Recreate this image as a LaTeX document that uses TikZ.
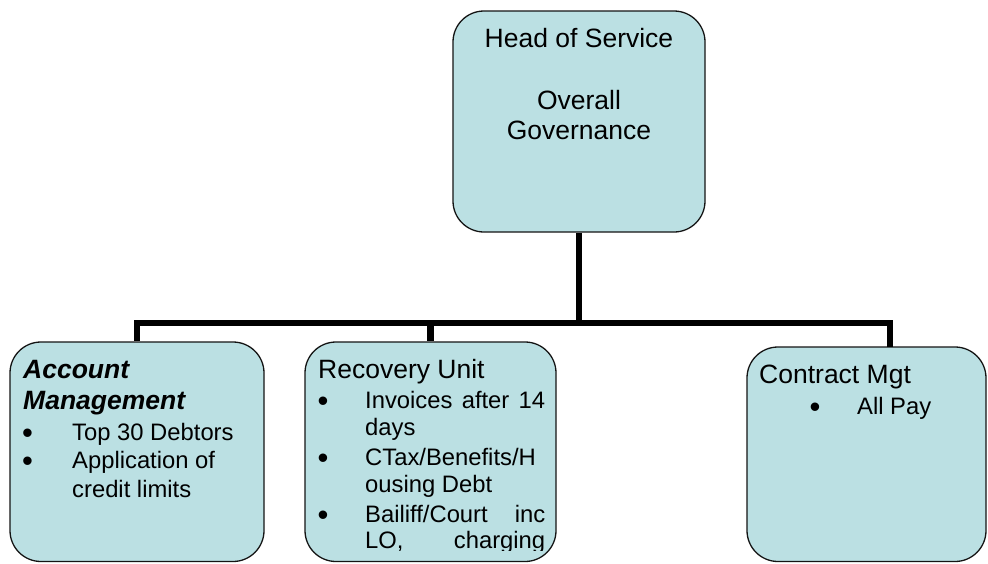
\documentclass[tikz,border=0pt]{standalone}
\usepackage{fontspec}
\setmainfont{Liberation Sans}
\definecolor{boxfill}{RGB}{187,224,227}
\definecolor{boxline}{RGB}{20,20,20}
\begin{document}
\begin{tikzpicture}[x=1pt,y=-1pt,
  box/.style={draw=boxline,line width=1.3pt,fill=boxfill,rounded corners=31pt,inner sep=0pt},
  conn/.style={line width=6.5pt,black},
  hdrfont/.style={font=\fontsize{26.5}{30}\selectfont},
  itmfont/.style={font=\fontsize{23.8}{28}\selectfont},
  hdr/.style={anchor=base west,inner sep=0pt,hdrfont},
  itm/.style={anchor=base west,inner sep=0pt,itmfont},
  bul/.style={anchor=base,inner sep=0pt,yshift=-3pt,font=\fontsize{31}{31}\selectfont}]
\useasboundingbox (0,0) rectangle (988,563);
% boxes
\node[box,minimum width=252pt,minimum height=221pt] (head) at (579,121.5) {};
\node[box,minimum width=254pt,minimum height=219.5pt] (acct) at (137,451.75) {};
\node[box,minimum width=251pt,minimum height=219.5pt] (recov) at (430.5,451.75) {};
\node[box,minimum width=239pt,minimum height=214.5pt] (contract) at (866.5,454.25) {};
% connectors
\coordinate (hub) at (579,323);
\coordinate (ctop) at (890,347);
\draw[conn] (head.south) -- (hub);
\draw[conn] (hub) -| (acct.north);
\draw[conn] (hub) -| (recov.north);
\draw[conn] (hub) -| (ctop);
% head text
\node[anchor=base,inner sep=0pt,hdrfont] (h1) at (579,47) {Head of Service};
\node[anchor=base,inner sep=0pt,hdrfont] (h2) at (579,109) {Overall};
\node[anchor=base,inner sep=0pt,hdrfont] (h3) at (579,139) {Governance};
% account management
\node[hdr,font=\fontsize{26.5}{30}\selectfont\bfseries\itshape] (a1) at (23,378) {Account};
\node[hdr,font=\fontsize{26.5}{30}\selectfont\bfseries\itshape] (a2) at (23,409) {Management};
\node[bul] (ab1) at (27.5,440) {•};
\node[itm] (a3) at (72,440) {Top 30 Debtors};
\node[bul] (ab2) at (27.5,468) {•};
\node[itm] (a4) at (72,468) {Application of};
\node[itm] (a5) at (72,497) {credit limits};
% recovery unit
\node[hdr] (r1) at (318,378) {Recovery Unit};
\node[bul] (rb1) at (323,408) {•};
\node[itm] (r2) at (365,408) {\makebox[180pt][l]{Invoices\hfill after\hfill 14}};
\node[itm] (r3) at (365,435) {days};
\node[bul] (rb2) at (323,465) {•};
\node[itm] (r4) at (365,465) {CTax/Benefits/H};
\node[itm] (r5) at (365,492) {ousing Debt};
\node[bul] (rb3) at (323,522) {•};
\node[itm] (r6) at (365,522) {\makebox[180pt][l]{Bailiff/Court\hfill inc}};
\begin{scope}
\clip (300,530) rectangle (560,550);
\node[itm] (r7) at (365,548) {\makebox[180pt][l]{LO,\hfill charging}};
\end{scope}
% contract mgt
\node[hdr] (c1) at (759,383) {Contract Mgt};
\node[bul] (cb1) at (815,414) {•};
\node[itm] (c2) at (857,414) {All Pay};
\end{tikzpicture}
\end{document}
